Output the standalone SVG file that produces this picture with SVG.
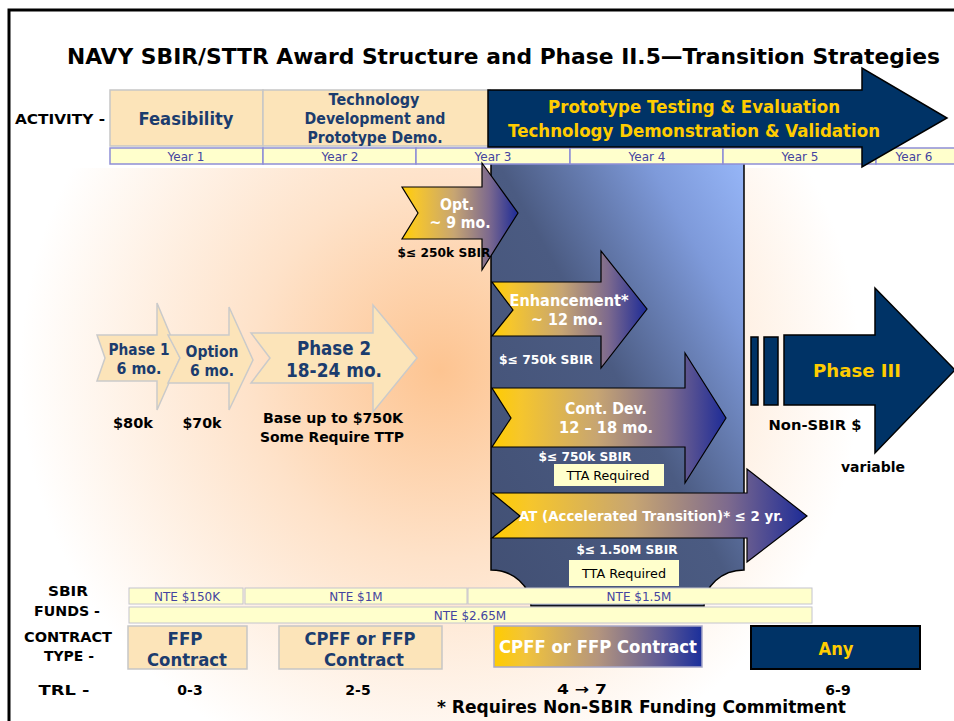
<svg xmlns="http://www.w3.org/2000/svg" width="954" height="721" viewBox="0 0 954 721">
<defs>
<radialGradient id="glow" gradientUnits="userSpaceOnUse" cx="440" cy="370" r="420">
<stop offset="0" stop-color="#FDC491"/>
<stop offset="0.45" stop-color="#FEE2C9"/>
<stop offset="1" stop-color="#FFFFFF"/>
</radialGradient>
<linearGradient id="boxg" x1="0" y1="1" x2="1" y2="0">
<stop offset="0" stop-color="#414F73"/>
<stop offset="0.5" stop-color="#4B5B82"/>
<stop offset="0.8" stop-color="#7E9ADA"/>
<stop offset="1" stop-color="#98B8FA"/>
</linearGradient>
<linearGradient id="arrg" x1="0" y1="0" x2="1" y2="0">
<stop offset="0" stop-color="#FFCC00"/>
<stop offset="0.12" stop-color="#F6C62C"/>
<stop offset="0.45" stop-color="#C7A572"/>
<stop offset="0.75" stop-color="#7D6A8E"/>
<stop offset="1" stop-color="#1D2B97"/>
</linearGradient>
<linearGradient id="cg" x1="0" y1="0" x2="1" y2="0">
<stop offset="0" stop-color="#FFCC00"/>
<stop offset="0.15" stop-color="#F2C43A"/>
<stop offset="0.5" stop-color="#B4957E"/>
<stop offset="0.8" stop-color="#5F5A95"/>
<stop offset="1" stop-color="#1B2F9B"/>
</linearGradient>
<style>
text{font-family:"DejaVu Sans",Verdana,sans-serif;font-weight:bold;}
.m{text-anchor:middle;}
.nv{fill:#1B3C6E;}
.yl{fill:#FFCC00;}
.wh{fill:#FFFFFF;}
.bk{fill:#000000;}
.yr{fill:#4444A0;font-weight:normal;font-size:12px;}
.peach{fill:#FCE4B9;stroke:#C6C6C6;stroke-width:1.5;}
.ycell{fill:#FFFFCC;stroke:#8E8ED6;stroke-width:1.5;}
.nte{fill:#FFFFCC;stroke:#C4C4CE;stroke-width:1;}
.navy{fill:#003366;stroke:#000000;stroke-width:1.5;}
.ga{fill:url(#arrg);stroke:#000000;stroke-width:1.2;}
.pa{fill:#FCE4B9;stroke:#CACACA;stroke-width:1.5;}
.tta{fill:#FFFFCC;}
.nb{font-weight:normal;}
</style>
</defs>

<rect x="0" y="0" width="954" height="721" fill="#FFFFFF"/>
<rect x="10" y="168" width="944" height="553" fill="url(#glow)"/>
<rect x="10" y="10" width="944" height="158" fill="#FFFFFF"/>
<path d="M9,721 V10 H954" fill="none" stroke="#000000" stroke-width="3"/>

<text x="67" y="64" font-size="22" textLength="873" lengthAdjust="spacingAndGlyphs">NAVY SBIR/STTR Award Structure and Phase II.5—Transition Strategies</text>

<g id="blue-box">
<path d="M491,150 L744,150 L744,570 A40,36 0 0 0 704,606 L531,606 A40,36 0 0 0 491,570 Z" fill="url(#boxg)" stroke="#000000" stroke-width="1.5"/>
</g>

<g id="years">
<rect class="ycell" x="110" y="148" width="153" height="16"/>
<rect class="ycell" x="263" y="148" width="153" height="16"/>
<rect class="ycell" x="416" y="148" width="154" height="16"/>
<rect class="ycell" x="570" y="148" width="153" height="16"/>
<rect class="ycell" x="723" y="148" width="153" height="16"/>
<rect class="ycell" x="876" y="148" width="90" height="16"/>
<text class="yr m" x="186" y="161">Year 1</text>
<text class="yr m" x="340" y="161">Year 2</text>
<text class="yr m" x="493" y="161">Year 3</text>
<text class="yr m" x="647" y="161">Year 4</text>
<text class="yr m" x="800" y="161">Year 5</text>
<text class="yr m" x="914" y="161">Year 6</text>
</g>

<text x="15" y="124" font-size="14" class="bk" textLength="90" lengthAdjust="spacingAndGlyphs">ACTIVITY -</text>

<g id="feasibility">
<rect class="peach" x="110" y="90" width="153" height="56"/>
<text class="nv m" x="186" y="125" font-size="18" textLength="95" lengthAdjust="spacingAndGlyphs">Feasibility</text>
</g>

<g id="tech-dev">
<rect class="peach" x="263" y="90" width="227" height="56"/>
<text class="nv m" x="374" y="105" font-size="15" textLength="91" lengthAdjust="spacingAndGlyphs">Technology</text>
<text class="nv m" x="375" y="124" font-size="15" textLength="141" lengthAdjust="spacingAndGlyphs">Development and</text>
<text class="nv m" x="375" y="143" font-size="15" textLength="135" lengthAdjust="spacingAndGlyphs">Prototype Demo.</text>
</g>

<g id="prototype-arrow">
<path class="navy" d="M488,90 L862,90 L862,68 L947,118 L862,167 L862,147 L488,147 Z"/>
<text class="yl m" x="694" y="113" font-size="17" textLength="292" lengthAdjust="spacingAndGlyphs">Prototype Testing &amp; Evaluation</text>
<text class="yl m" x="694" y="137" font-size="17" textLength="372" lengthAdjust="spacingAndGlyphs">Technology Demonstration &amp; Validation</text>
</g>

<g id="phase1">
<path class="pa" d="M97,335 L157,335 L157,303 L180,358 L157,410 L157,381 L97,381 L105,358 Z"/>
<text class="nv m" x="139" y="355" font-size="15" textLength="61" lengthAdjust="spacingAndGlyphs">Phase 1</text>
<text class="nv m" x="139" y="374" font-size="15" textLength="45" lengthAdjust="spacingAndGlyphs">6 mo.</text>
<text class="bk m" x="133" y="428" font-size="14" textLength="40" lengthAdjust="spacingAndGlyphs">$80k</text>
</g>

<g id="option">
<path class="pa" d="M168,335 L229,335 L229,307 L253,360 L229,410 L229,383 L168,383 L180,358 Z"/>
<text class="nv m" x="212" y="357" font-size="15" textLength="53" lengthAdjust="spacingAndGlyphs">Option</text>
<text class="nv m" x="212" y="376" font-size="15" textLength="44" lengthAdjust="spacingAndGlyphs">6 mo.</text>
<text class="bk m" x="202" y="428" font-size="14" textLength="39" lengthAdjust="spacingAndGlyphs">$70k</text>
</g>

<g id="phase2">
<path class="pa" d="M251,333 L373,333 L373,305 L417,358 L373,412 L373,383 L251,383 L270,358 Z"/>
<text class="nv m" x="334" y="355" font-size="19" textLength="74" lengthAdjust="spacingAndGlyphs">Phase 2</text>
<text class="nv m" x="334" y="377" font-size="19" textLength="96" lengthAdjust="spacingAndGlyphs">18-24 mo.</text>
<text class="bk m" x="333" y="423" font-size="14" textLength="140" lengthAdjust="spacingAndGlyphs">Base up to $750K</text>
<text class="bk m" x="332" y="442" font-size="14" textLength="144" lengthAdjust="spacingAndGlyphs">Some Require TTP</text>
</g>

<g id="opt">
<path class="ga" d="M402,187 L482,187 L482,163 L518,213 L482,270 L482,239 L402,239 L418,213 Z"/>
<text class="wh m" x="457" y="210" font-size="15" textLength="34" lengthAdjust="spacingAndGlyphs">Opt.</text>
<text class="wh m" x="460" y="228" font-size="15" textLength="61" lengthAdjust="spacingAndGlyphs">~ 9 mo.</text>
<text class="bk m" x="444" y="257" font-size="12.5" textLength="93" lengthAdjust="spacingAndGlyphs">$≤ 250k SBIR</text>
</g>

<g id="enhancement">
<path class="ga" d="M492,282 L601,282 L601,251 L647,309 L601,368 L601,336 L492,336 L513,310 Z"/>
<text class="wh m" x="569" y="306" font-size="15" textLength="119" lengthAdjust="spacingAndGlyphs">Enhancement*</text>
<text class="wh m" x="567" y="325" font-size="15" textLength="72" lengthAdjust="spacingAndGlyphs">~ 12 mo.</text>
<text class="wh m" x="546" y="364" font-size="12.5" textLength="94" lengthAdjust="spacingAndGlyphs">$≤ 750k SBIR</text>
</g>

<g id="cont-dev">
<path class="ga" d="M492,388 L685,388 L685,353 L726,418 L685,483 L685,447 L492,447 L511,418 Z"/>
<text class="wh m" x="606" y="414" font-size="15" textLength="82" lengthAdjust="spacingAndGlyphs">Cont. Dev.</text>
<text class="wh m" x="606" y="433" font-size="15" textLength="94" lengthAdjust="spacingAndGlyphs">12 – 18 mo.</text>
<text class="wh m" x="585" y="461" font-size="12.5" textLength="93" lengthAdjust="spacingAndGlyphs">$≤ 750k SBIR</text>
<rect class="tta" x="554" y="464" width="110" height="22"/>
<text class="bk m nb" x="608" y="480" font-size="12.5" textLength="83" lengthAdjust="spacingAndGlyphs">TTA  Required</text>
</g>

<g id="accelerated-transition">
<path class="ga" d="M492,493 L747,493 L747,469 L807,516 L747,562 L747,538 L492,538 L520,516 Z"/>
<text class="wh m" x="651" y="521" font-size="14" textLength="264" lengthAdjust="spacingAndGlyphs">AT (Accelerated Transition)* ≤ 2 yr.</text>
<text class="wh m" x="627" y="554" font-size="13" textLength="101" lengthAdjust="spacingAndGlyphs">$≤ 1.50M SBIR</text>
<rect class="tta" x="569" y="560" width="110" height="26"/>
<text class="bk m nb" x="624" y="578" font-size="12.5" textLength="84" lengthAdjust="spacingAndGlyphs">TTA  Required</text>
</g>

<g id="phase3">
<rect class="navy" x="751" y="337" width="7" height="68"/>
<rect class="navy" x="764" y="337" width="14" height="68"/>
<path class="navy" d="M784,335 L875,335 L875,288 L955,370 L875,453 L875,405 L784,405 Z"/>
<text class="yl m" x="857" y="377" font-size="18" textLength="88" lengthAdjust="spacingAndGlyphs">Phase III</text>
<text class="bk m" x="815" y="430" font-size="14" textLength="93" lengthAdjust="spacingAndGlyphs">Non-SBIR $</text>
<text class="bk m" x="873" y="472" font-size="14" textLength="64" lengthAdjust="spacingAndGlyphs">variable</text>
</g>

<g id="sbir-funds">
<text class="bk m" x="68" y="596" font-size="14" textLength="40" lengthAdjust="spacingAndGlyphs">SBIR</text>
<text class="bk m" x="67" y="616" font-size="14" textLength="66" lengthAdjust="spacingAndGlyphs">FUNDS -</text>
<rect class="nte" x="129" y="588" width="114" height="16"/>
<rect class="nte" x="245" y="588" width="222" height="16"/>
<rect class="nte" x="468" y="588" width="344" height="16"/>
<rect class="nte" x="129" y="607" width="683" height="16"/>
<text class="yr m" x="187" y="601">NTE $150K</text>
<text class="yr m" x="356" y="601">NTE $1M</text>
<text class="yr m" x="639" y="601">NTE $1.5M</text>
<text class="yr m" x="470" y="620">NTE $2.65M</text>
</g>

<g id="contract-type">
<text class="bk m" x="68" y="642" font-size="14" textLength="88" lengthAdjust="spacingAndGlyphs">CONTRACT</text>
<text class="bk m" x="69" y="661" font-size="14" textLength="50" lengthAdjust="spacingAndGlyphs">TYPE -</text>
<rect class="peach" x="128" y="626" width="119" height="43"/>
<text class="nv m" x="185" y="645" font-size="18" textLength="35" lengthAdjust="spacingAndGlyphs">FFP</text>
<text class="nv m" x="187" y="666" font-size="18" textLength="80" lengthAdjust="spacingAndGlyphs">Contract</text>
<rect class="peach" x="279" y="626" width="163" height="43"/>
<text class="nv m" x="360" y="645" font-size="18" textLength="111" lengthAdjust="spacingAndGlyphs">CPFF or FFP</text>
<text class="nv m" x="364" y="666" font-size="18" textLength="80" lengthAdjust="spacingAndGlyphs">Contract</text>
<rect x="494" y="626" width="208" height="41" fill="url(#cg)" stroke="#A8A8C8" stroke-width="1.5"/>
<text class="wh m" x="598" y="653" font-size="18" textLength="198" lengthAdjust="spacingAndGlyphs">CPFF or FFP Contract</text>
<rect x="751" y="626" width="169" height="43" fill="#003366" stroke="#000000" stroke-width="2"/>
<text class="yl m" x="836" y="655" font-size="18" textLength="35" lengthAdjust="spacingAndGlyphs">Any</text>
</g>

<g id="trl">
<text class="bk m" x="64" y="695" font-size="14" textLength="51" lengthAdjust="spacingAndGlyphs">TRL -</text>
<text class="bk m" x="190" y="695" font-size="14">0-3</text>
<text class="bk m" x="358" y="695" font-size="14">2-5</text>
<text class="bk m" x="582" y="694" font-size="14" textLength="50" lengthAdjust="spacingAndGlyphs">4 → 7</text>
<text class="bk m" x="838" y="695" font-size="14">6-9</text>
</g>

<text class="bk" x="437" y="713" font-size="17" textLength="409" lengthAdjust="spacingAndGlyphs">* Requires Non-SBIR Funding Commitment</text>
</svg>
